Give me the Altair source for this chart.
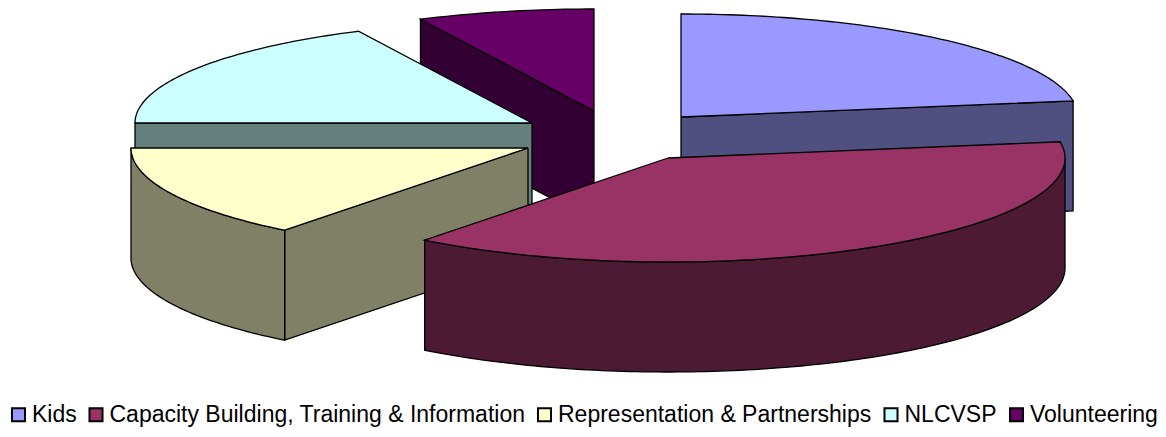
import math
import altair as alt
import pandas as pd

categories = ["Kids", "Capacity Building, Training & Information",
              "Representation & Partnerships", "NLCVSP", "Volunteering"]
shares = [22.5, 38.0, 14.5, 17.8, 7.2]
top_colors = ["#9999FF", "#993366", "#FFFFCC", "#CCFFFF", "#660066"]
side_colors = ["#4F4F80", "#4D1A33", "#808066", "#668080", "#330033"]

# pie projection (page pixels): exploded slice centres, ellipse radii, wall depth
centres = [(681, 117), (668, 158), (528, 148), (532, 123), (594, 111)]
vertical_radii = [103, 104, 104, 102, 102]
RX, DEPTH = 397, 110
W, H = 1150, 421


def pt(c, ry, deg):
    a = math.radians(deg)
    return (c[0] + RX * math.sin(a), c[1] - ry * math.cos(a))


def arc(c, ry, a0, a1):
    n = max(2, int(abs(a1 - a0)) + 1)
    return [pt(c, ry, a0 + (a1 - a0) * k / (n - 1)) for k in range(n)]


def down(points):
    return [(x, y + DEPTH) for x, y in points]


def poly(points, fill):
    pts = list(points) + [points[0]]
    df = pd.DataFrame({"x": [p[0] for p in pts], "y": [p[1] for p in pts],
                       "i": list(range(len(pts)))})
    return alt.Chart(df).mark_line(fill=fill, stroke="black", strokeWidth=1.3, clip=False).encode(
        x=alt.X("x:Q", scale=alt.Scale(domain=[8, 8 + W]), axis=None),
        y=alt.Y("y:Q", scale=alt.Scale(domain=[8 + H, 8]), axis=None),
        order=alt.Order("i:Q"),
    )


# slice angle ranges clockwise from 12 o'clock
edges = [0.0]
for s in shares:
    edges.append(edges[-1] + s / sum(shares) * 360)

layers = []
# painter's order: back slices first
for idx in [4, 0, 3, 2, 1]:
    c = centres[idx]
    ry = vertical_radii[idx]
    a0, a1 = edges[idx], edges[idx + 1]
    # visible radial walls
    for ang in (a0, a1):
        p = pt(c, ry, ang)
        faces_front = (ang == a1 and ang < 180) or (ang == a0 and ang > 180)
        if faces_front:
            layers.append(poly([c, p, (p[0], p[1] + DEPTH), (c[0], c[1] + DEPTH)], side_colors[idx]))
    # visible outer wall
    f0, f1 = max(a0, 90), min(a1, 270)
    if f1 > f0:
        top = arc(c, ry, f0, f1)
        layers.append(poly(top + down(top)[::-1], side_colors[idx]))
    layers.append(poly([c] + arc(c, ry, a0, a1), top_colors[idx]))

legend_df = pd.DataFrame({"category": categories, "x": [100] * 5, "y": [100] * 5})
legend_layer = alt.Chart(legend_df).mark_square(size=0).encode(
    x=alt.X("x:Q", scale=alt.Scale(domain=[8, 8 + W]), axis=None),
    y=alt.Y("y:Q", scale=alt.Scale(domain=[8 + H, 8]), axis=None),
    color=alt.Color("category:N",
                    scale=alt.Scale(domain=categories, range=top_colors),
                    legend=alt.Legend(title=None, orient="none", legendX=-1, legendY=395,
                                      direction="horizontal", columns=5,
                                      symbolType="square", symbolSize=170,
                                      symbolStrokeColor="black", symbolStrokeWidth=2,
                                      symbolOpacity=1,
                                      labelFont="Liberation Sans", labelFontSize=23,
                                      labelColor="black", labelLimit=600, labelOffset=2,
                                      columnPadding=7.5, padding=0)),
)

chart = alt.layer(*layers, legend_layer).properties(
    width=W, height=H, padding=0, autosize=alt.AutoSizeParams(type="none"), background="white"
).configure_view(stroke=None)

chart.save("out.html", embed_options={"renderer": "svg", "actions": False})
